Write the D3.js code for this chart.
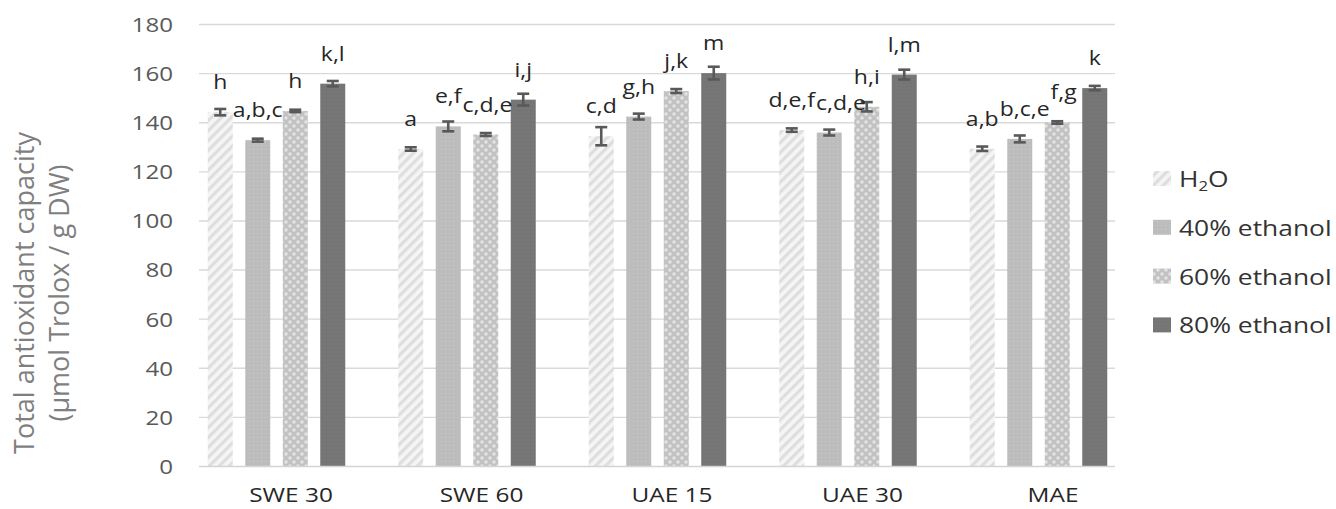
<!DOCTYPE html>
<html>
<head>
<meta charset="utf-8">
<script src="https://cdn.jsdelivr.net/npm/d3@7"></script>
<style>
  html, body { margin: 0; padding: 0; background: #ffffff; }
  svg { display: block; }
  text { font-family: "Open Sans", "Noto Sans", sans-serif; }
</style>
</head>
<body>
<svg id="chart" width="1336" height="509"></svg>
<script>
// ---------------- data ----------------
const categories = ["SWE 30", "SWE 60", "UAE 15", "UAE 30", "MAE"];
const seriesNames = ["H2O", "40% ethanol", "60% ethanol", "80% ethanol"];

const h2oValues   = [144.3, 129.3, 134.5, 137.0, 129.4];
const eth40Values = [132.9, 138.5, 142.5, 136.0, 133.4];
const eth60Values = [144.8, 135.2, 152.9, 146.5, 140.1];
const eth80Values = [155.9, 149.4, 160.2, 159.6, 154.1];

const h2oErrors   = [1.3, 0.7, 3.7, 0.7, 0.9];
const eth40Errors = [0.6, 2.0, 1.2, 1.2, 1.4];
const eth60Errors = [0.5, 0.6, 0.8, 1.9, 0.5];
const eth80Errors = [1.1, 2.4, 2.6, 2.0, 0.9];

const h2oLetters   = ["h", "a", "c,d", "d,e,f", "a,b"];
const eth40Letters = ["a,b,c", "e,f", "g,h", "c,d,e", "b,c,e"];
const eth60Letters = ["h", "c,d,e", "j,k", "h,i", "f,g"];
const eth80Letters = ["k,l", "i,j", "m", "l,m", "k"];

const yTicks = [0, 20, 40, 60, 80, 100, 120, 140, 160, 180];
const yTitleLines = ["Total antioxidant capacity", "(µmol Trolox / g DW)"];

const seriesValues  = [h2oValues, eth40Values, eth60Values, eth80Values];
const seriesErrors  = [h2oErrors, eth40Errors, eth60Errors, eth80Errors];
const seriesLetters = [h2oLetters, eth40Letters, eth60Letters, eth80Letters];

// ---------------- layout ----------------
const plotLeft = 199, plotRight = 1115, plotTop = 24.5, plotBottom = 466.5;
const SX = 1.22; // horizontal text stretch of the source picture

const svg = d3.select("#chart");

// patterns
const defs = svg.append("defs");
const pStripe = defs.append("pattern").attr("id", "pat0")
  .attr("patternUnits", "userSpaceOnUse").attr("width", 7).attr("height", 7)
  .attr("patternTransform", "rotate(45)");
pStripe.append("rect").attr("width", 7).attr("height", 7).attr("fill", "#f5f5f5");
pStripe.append("rect").attr("width", 3.2).attr("height", 7).attr("fill", "#dedede");

const pFine = defs.append("pattern").attr("id", "pat1")
  .attr("patternUnits", "userSpaceOnUse").attr("width", 4).attr("height", 4);
pFine.append("rect").attr("width", 4).attr("height", 4).attr("fill", "#bcbcbc");
pFine.append("rect").attr("x", 1).attr("y", 1).attr("width", 1).attr("height", 1).attr("fill", "#cbcbcb");

const pDots = defs.append("pattern").attr("id", "pat2")
  .attr("patternUnits", "userSpaceOnUse").attr("width", 8).attr("height", 8);
pDots.append("rect").attr("width", 8).attr("height", 8).attr("fill", "#c2c2c2");
pDots.append("circle").attr("cx", 2).attr("cy", 2).attr("r", 1.7).attr("fill", "#e4e4e4");
pDots.append("circle").attr("cx", 6).attr("cy", 6).attr("r", 1.7).attr("fill", "#e4e4e4");

const pDark = defs.append("pattern").attr("id", "pat3")
  .attr("patternUnits", "userSpaceOnUse").attr("width", 4).attr("height", 4);
pDark.append("rect").attr("width", 4).attr("height", 4).attr("fill", "#767676");
pDark.append("rect").attr("x", 2).attr("y", 2).attr("width", 1).attr("height", 1).attr("fill", "#6e6e6e");

const fills = ["url(#pat0)", "url(#pat1)", "url(#pat2)", "url(#pat3)"];

// scales
const y = d3.scaleLinear().domain([0, 180]).range([plotBottom, plotTop]);
const x0 = d3.scalePoint().domain(categories).range([276.5, 1038.5]);
const x1 = d3.scaleBand().domain(seriesNames).range([-68.75, 68.75]).paddingInner(1/3).paddingOuter(0);

// gridlines
svg.append("g").selectAll("line").data(yTicks.filter(d => d > 0)).join("line")
  .attr("x1", plotLeft).attr("x2", plotRight)
  .attr("y1", d => y(d)).attr("y2", d => y(d))
  .attr("stroke", "#d9d9d9").attr("stroke-width", 1.4);

// y axis (labels only)
const yAxis = svg.append("g").attr("transform", `translate(${plotLeft},0)`)
  .call(d3.axisLeft(y).tickValues(yTicks).tickSize(0).tickPadding(0));
yAxis.select(".domain").remove();
yAxis.selectAll("text")
  .attr("x", -26 / SX).attr("dy", "0.35em")
  .attr("transform", `scale(${SX},1)`)
  .style("font-size", "19.8px").style("font-family", "'Open Sans', sans-serif")
  .attr("fill", "#595959");

// bars
const barG = svg.append("g");
seriesNames.forEach((s, si) => {
  const g = barG.append("g");
  g.selectAll("rect").data(categories).join("rect")
    .attr("x", (c) => x0(c) + x1(s))
    .attr("y", (c, i) => y(seriesValues[si][i]))
    .attr("width", x1.bandwidth())
    .attr("height", (c, i) => y(0) - y(seriesValues[si][i]))
    .attr("fill", fills[si]);
});

// baseline
svg.append("line").attr("x1", plotLeft).attr("x2", plotRight)
  .attr("y1", y(0)).attr("y2", y(0))
  .attr("stroke", "#d4d4d4").attr("stroke-width", 1.5);

// error bars
const errG = svg.append("g").attr("stroke", "#595959").attr("stroke-width", 2.6).attr("fill", "none");
seriesNames.forEach((s, si) => {
  categories.forEach((c, i) => {
    const cx = x0(c) + x1(s) + x1.bandwidth() / 2;
    const v = seriesValues[si][i], e = seriesErrors[si][i];
    const yt = y(v + e), yb = y(v - e);
    errG.append("line").attr("x1", cx).attr("x2", cx).attr("y1", yt).attr("y2", yb);
    errG.append("line").attr("x1", cx - 6).attr("x2", cx + 6).attr("y1", yt).attr("y2", yt);
    errG.append("line").attr("x1", cx - 6).attr("x2", cx + 6).attr("y1", yb).attr("y2", yb);
  });
});

// significance letters (centred above bars, nudged right if they collide with the left neighbour)
const LSX = 1.15;
const lblG = svg.append("g");
categories.forEach((c, i) => {
  let prev = null;
  seriesNames.forEach((s, si) => {
    const cx = x0(c) + x1(s) + x1.bandwidth() / 2;
    const by = y(seriesValues[si][i]) - 23;
    const t = lblG.append("text")
      .attr("text-anchor", "middle")
      .style("font-size", "20px")
      .attr("fill", "#262626")
      .text(seriesLetters[si][i]);
    const w = t.node().getComputedTextLength() * LSX;
    let left = cx - w / 2;
    if (prev && prev.right > left && Math.abs(prev.by - by) < 19) {
      left = prev.right + 1;
    }
    t.attr("transform", `translate(${left + w / 2},${by}) scale(${LSX},1)`);
    prev = { right: left + w, by };
  });
});

// x axis labels
const xAxis = svg.append("g").attr("transform", `translate(0,${plotBottom})`)
  .call(d3.axisBottom(x0).tickSize(0).tickPadding(0));
xAxis.select(".domain").remove();
xAxis.selectAll("text")
  .attr("x", 14 / SX).attr("y", 36).attr("dy", null)
  .attr("transform", `scale(${SX},1)`)
  .style("font-size", "20px").style("font-family", "'Open Sans', sans-serif")
  .attr("fill", "#262626");

// y axis title
const titleG = svg.append("g");
const titleBaselines = [34, 69];
yTitleLines.forEach((t, i) => {
  titleG.append("text")
    .attr("transform", `translate(${titleBaselines[i]},293) rotate(-90)`)
    .attr("text-anchor", "middle")
    .style("font-size", "27px")
    .attr("fill", "#7f7f7f")
    .text(t);
});

// legend
const legG = svg.append("g");
seriesNames.forEach((s, si) => {
  const by = 187 + si * 48.8;
  legG.append("rect").attr("x", 1153).attr("y", by - 16).attr("width", 18).attr("height", 15)
    .attr("fill", fills[si]);
  const t = legG.append("text")
    .attr("transform", `translate(1179,${by}) scale(1.2,1)`)
    .style("font-size", "22px").attr("fill", "#333333");
  if (s === "H2O") {
    t.append("tspan").text("H");
    t.append("tspan").attr("dy", 4).style("font-size", "14px").text("2");
    t.append("tspan").attr("dy", -4).text("O");
  } else {
    t.text(s);
  }
});
</script>
</body>
</html>
